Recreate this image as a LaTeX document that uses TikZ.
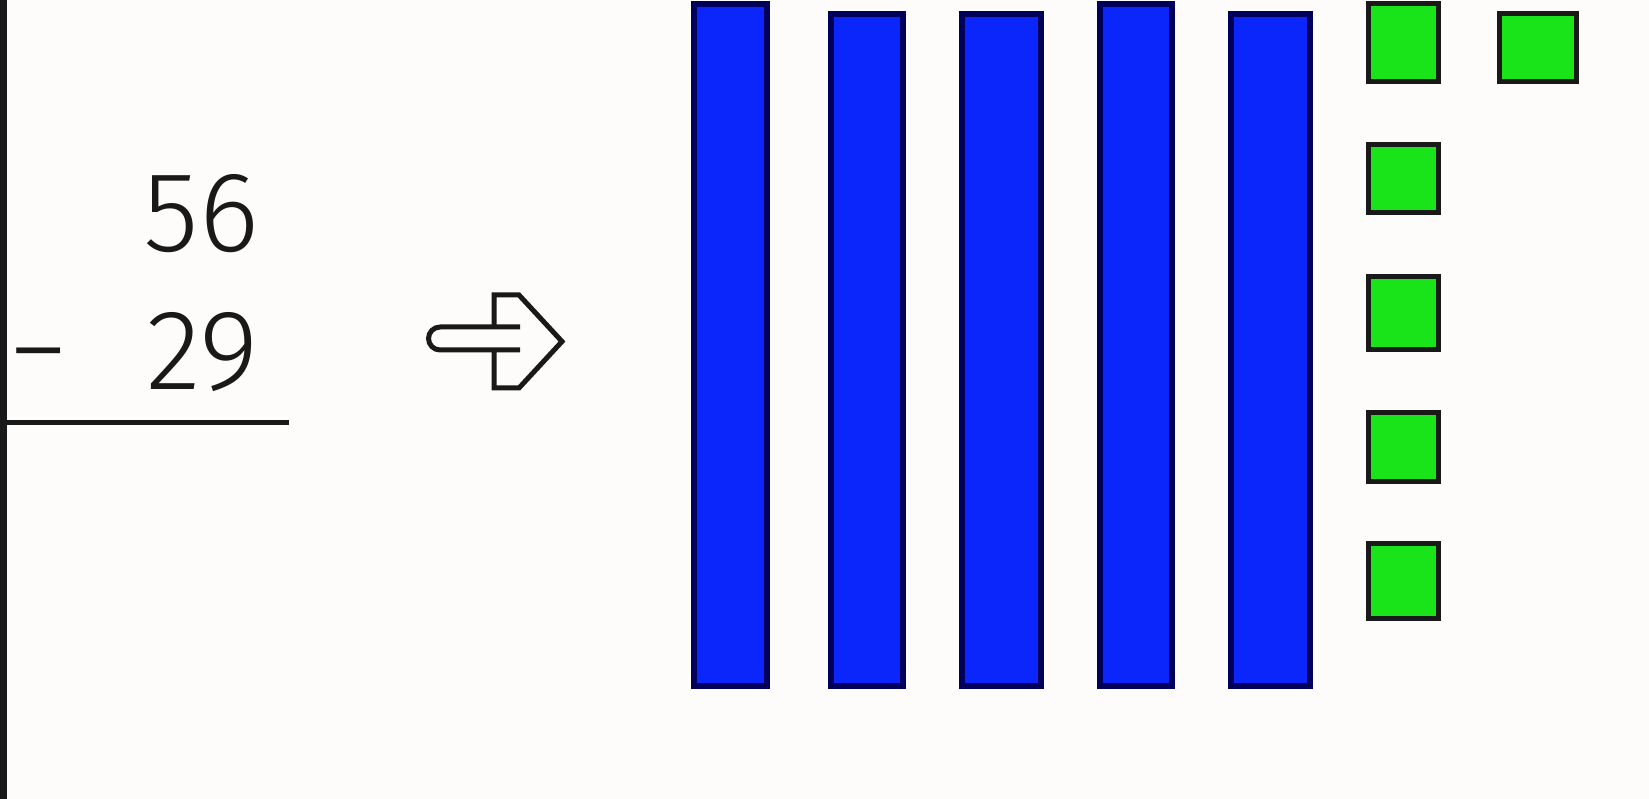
\documentclass[tikz,border=0pt]{standalone}
\usepackage{fontspec}
\newfontfamily\digitfont{Fira Sans Light}
\definecolor{bgc}{RGB}{253,252,250}
\definecolor{barblue}{RGB}{10,38,250}
\definecolor{baredge}{RGB}{0,0,90}
\definecolor{sqgreen}{RGB}{25,228,25}
\tikzset{
  bar/.style={draw=baredge, line width=6pt, fill=barblue},
  unit/.style={draw=black!90, line width=5pt, fill=sqgreen},
  num/.style={font=\digitfont\fontsize{114}{114}\selectfont, inner sep=0pt, text=black!90},
  rule/.style={draw=black!90, line width=5pt},
  arrowline/.style={draw=black!90, line width=5pt, line join=miter, line cap=butt}
}
\begin{document}
\begin{tikzpicture}[x=1pt,y=-1pt]
\useasboundingbox (0,0) rectangle (1649,799);
\fill[bgc] (0,0) rectangle (1649,799);
% left vertical rule
\draw[rule, line width=7pt] (3.5,0) -- (3.5,799);
% numbers
\node[num, anchor=base east] (n56) at (259,252) {56};
\node[num, anchor=base east] (n29) at (259,390) {29};
\node[num, anchor=base west, xscale=1.45] (minus) at (5,387) {-};
% horizontal rule
\coordinate (hl) at (0,422);
\coordinate (hr) at (289,422);
\draw[rule] (hl) -- (hr);
% arrow
\draw[arrowline] (520,327) -- (440,327) arc[start angle=270, end angle=90, radius=11.5] -- (520,350);
\draw[arrowline] (494,327) -- (494,295) -- (519,295) -- (562,341.5) -- (519,388) -- (494,388) -- (494,350);
% tens bars
\draw[bar] (694,4) rectangle (767,686);
\draw[bar] (831,14) rectangle (903,686);
\draw[bar] (962,14) rectangle (1041,686);
\draw[bar] (1100,4) rectangle (1172,686);
\draw[bar] (1231,14) rectangle (1310,686);
% units
\draw[unit] (1368,4) rectangle (1438,82);
\draw[unit] (1499,14) rectangle (1576,82);
\draw[unit] (1368,145) rectangle (1438,213);
\draw[unit] (1368,277) rectangle (1438,350);
\draw[unit] (1368,412) rectangle (1438,481);
\draw[unit] (1368,543) rectangle (1438,618);
\end{tikzpicture}
\end{document}
